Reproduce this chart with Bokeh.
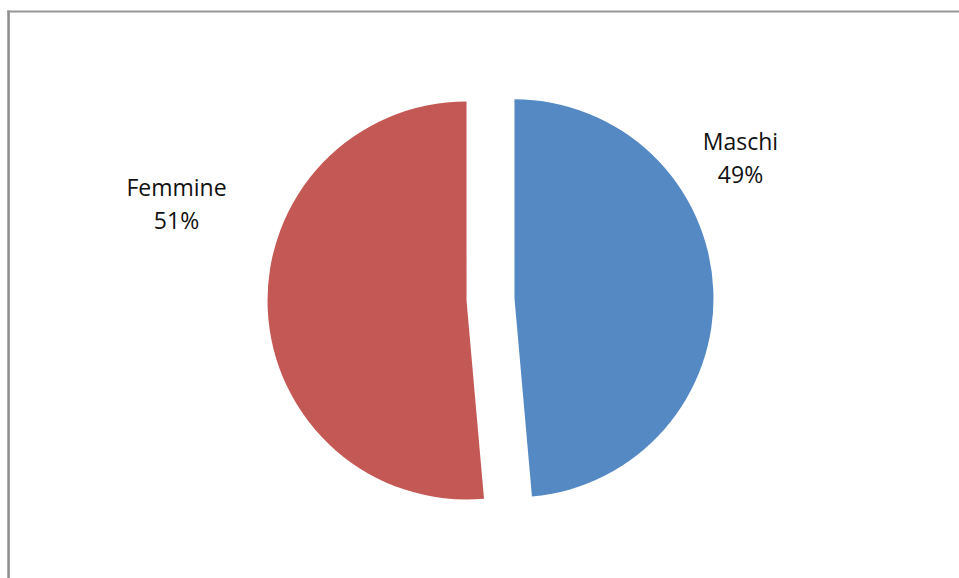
import math
from bokeh.plotting import figure
from bokeh.models import ColumnDataSource, Range1d, Span, BoxAnnotation
from bokeh.core.properties import value
from bokeh.embed import file_html
from bokeh.resources import INLINE

# ---- data ----
categories = ["Maschi", "Femmine"]
shares = [48.6, 51.4]
colors = ["#5589C4", "#C45854"]

# ---- layout (pixels, y measured downwards) ----
W, H = 959, 578
CX, CY = 490.0, 298.9
R = 199.0
EXPLODE = 24.0
label_pos = {"Maschi": (740, 140.5), "Femmine": (176, 186.0)}
LINE_GAP = 33.0

total = sum(shares)
xs, ys, starts, ends = [], [], [], []
ang = math.pi / 2
for s in shares:
    sweep = 2 * math.pi * s / total
    start, end = ang, ang - sweep
    mid = (start + end) / 2
    xs.append(CX + EXPLODE * math.cos(mid))
    ys.append(-CY + EXPLODE * math.sin(mid))
    starts.append(start)
    ends.append(end)
    ang = end

src = ColumnDataSource(dict(x=xs, y=ys, start=starts, end=ends, color=colors,
                            cat=categories))

p = figure(width=W, height=H, x_range=Range1d(0, W), y_range=Range1d(-H, 0),
           output_backend="svg", toolbar_location=None, min_border=0)
p.axis.visible = False
p.grid.visible = False
p.outline_line_color = None
p.background_fill_color = "white"
p.border_fill_color = "white"

p.wedge(x="x", y="y", radius=R, start_angle="start", end_angle="end",
        direction="clock", fill_color="color", line_color=None, source=src)

# frame lines (left and top edges of the chart area)
p.add_layout(BoxAnnotation(left=6.8, right=9.3, top=-10, bottom=-H,
                           fill_color="#8c8c8c", fill_alpha=1, line_color=None))
p.add_layout(BoxAnnotation(left=6.8, right=W, top=-10, bottom=-12,
                           fill_color="#969696", fill_alpha=1, line_color=None))

lx, ly, lt = [], [], []
for c, s in zip(categories, shares):
    x0, y0 = label_pos[c]
    lx += [x0, x0]
    ly += [-y0, -(y0 + LINE_GAP)]
    lt += [c, f"{round(100 * s / total)}%"]
p.text(x=lx, y=ly, text=lt, text_align="center", text_baseline="alphabetic",
       text_font=value("Open Sans"), text_font_size="23px", text_color="#111111")

open("out.html", "w").write(file_html(p, INLINE))
